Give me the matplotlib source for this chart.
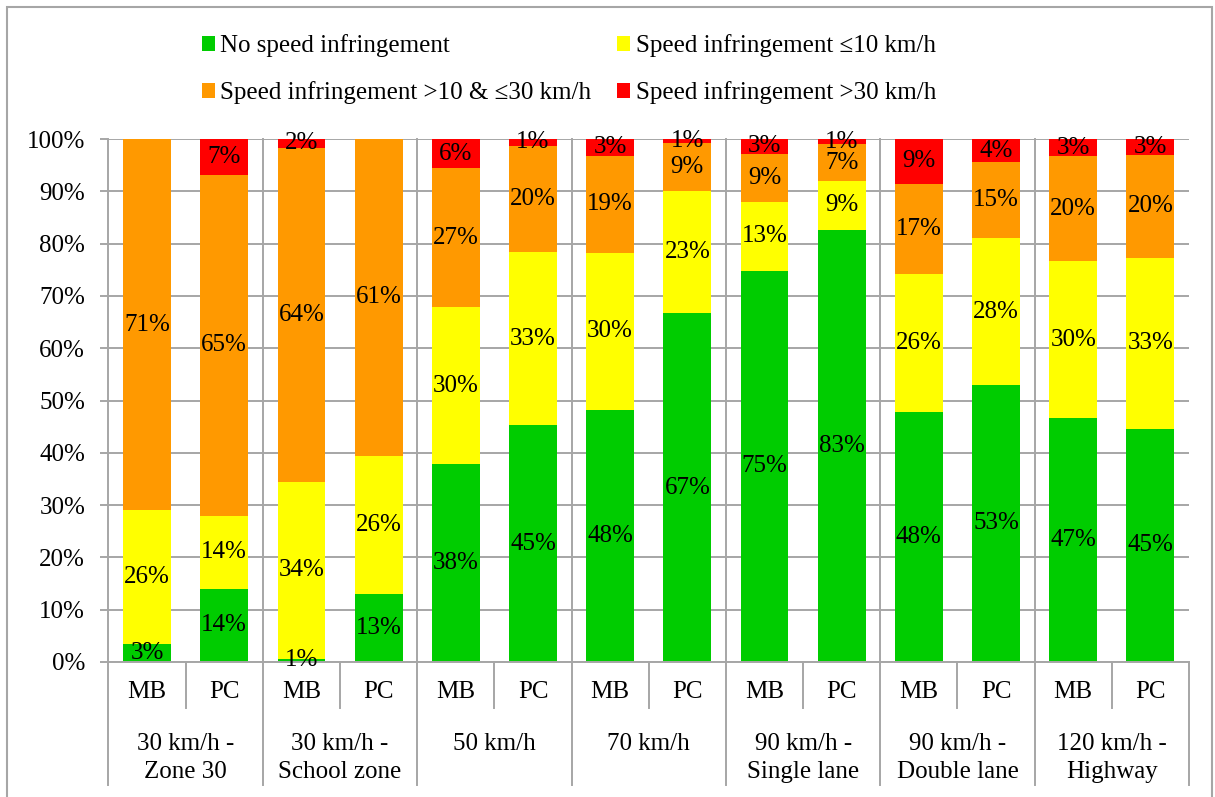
import numpy as np
import matplotlib
matplotlib.use("Agg")
import matplotlib.pyplot as plt
from matplotlib.patches import Patch, Rectangle

plt.rcParams['font.family'] = ['Liberation Serif', 'DejaVu Serif']
plt.rcParams['font.size'] = 18

# bars: MB / PC for each speed zone
vehicles = ["MB", "PC"] * 7
zones = ["30 km/h -\nZone 30", "30 km/h -\nSchool zone", "50 km/h", "70 km/h",
         "90 km/h -\nSingle lane", "90 km/h -\nDouble lane", "120 km/h -\nHighway"]

# shares in %
no_infr = [3.4, 14.0, 0.6, 13.0, 37.8, 45.3, 48.2, 66.7, 74.8, 82.6, 47.8, 53.0, 46.6, 44.6]
le10 = [25.6, 14.0, 33.9, 26.4, 30.0, 33.1, 30.0, 23.4, 13.2, 9.4, 26.4, 28.0, 30.0, 32.6]
gt10_le30 = [71.0, 65.2, 63.8, 60.6, 26.6, 20.3, 18.6, 9.2, 9.2, 7.0, 17.2, 14.6, 20.1, 19.8]
gt30 = [0.0, 6.8, 1.7, 0.0, 5.6, 1.3, 3.2, 0.7, 2.8, 1.0, 8.6, 4.4, 3.3, 3.0]

series = [
    ("No speed infringement", no_infr, "#00CC00"),
    ("Speed infringement \u226410 km/h", le10, "#FFFF00"),
    ("Speed infringement >10 & \u226430 km/h", gt10_le30, "#FF9900"),
    ("Speed infringement >30 km/h", gt30, "#FF0000"),
]

grid_c = "#A6A6A6"
grid_w = 1.4

fig = plt.figure(figsize=(12.15, 7.97), dpi=100)
ax = fig.add_axes([108.5 / 1215, 1 - 662 / 797, (1189 - 108.5) / 1215, (662 - 139) / 797])

x = np.arange(len(vehicles)) + 0.5
bottom = np.zeros(len(vehicles))
handles = []
for name, vals, col in series:
    vals = np.array(vals)
    bars = ax.bar(x, vals, width=0.62, bottom=bottom, color=col, zorder=2)
    labels = [f"{round(v)}%" if v > 0 else "" for v in vals]
    ax.bar_label(bars, labels=labels, label_type="center", fontsize=18, zorder=3)
    bottom += vals
    handles.append(Patch(facecolor=col, label=name))

ax.set_xlim(0, len(vehicles))
ax.set_ylim(0, 100)
ax.set_yticks(np.arange(0, 101, 10))
ax.set_yticklabels([f"{v}%" for v in range(0, 101, 10)])
ax.yaxis.grid(True, color=grid_c, lw=grid_w, zorder=0)
ax.set_axisbelow(True)
ax.tick_params(axis="y", length=5.8, width=grid_w, color=grid_c, pad=11)
ax.tick_params(axis="x", length=0, labelbottom=False)
for s in ["top", "right"]:
    ax.spines[s].set_visible(False)
for s in ["left", "bottom"]:
    ax.spines[s].set_color(grid_c)
    ax.spines[s].set_linewidth(grid_w)

# category axis below: vertical separators and labels
trans = ax.get_xaxis_transform()
low = -(785 - 662) / 523
mid = -(708 - 662) / 523
for g in range(len(zones) + 1):
    xg = 2 * g
    top = 1 if 0 < g < len(zones) else 0
    ax.plot([xg, xg], [low, top], transform=trans, color=grid_c, lw=grid_w,
            clip_on=False, zorder=1)
for g in range(len(zones)):
    ax.plot([2 * g + 1] * 2, [mid, 0], transform=trans, color=grid_c, lw=grid_w,
            clip_on=False, zorder=1)
    ax.text(2 * g + 1, -(733 - 662) / 523, zones[g], transform=trans, ha="center",
            va="top", linespacing=1.36)
for xi, v in zip(x, vehicles):
    ax.text(xi, -(692 - 662) / 523, v, transform=trans, ha="center", va="center")

# legend (rows: green/yellow, orange/red)
order = [0, 2, 1, 3]
fig.legend([handles[i] for i in order], [handles[i].get_label() for i in order],
           ncol=2, loc="upper left", bbox_to_anchor=(189 / 1215, 1 - 22 / 797),
           frameon=False, borderpad=0, handlelength=0.52, handleheight=0.52,
           handletextpad=0.24, columnspacing=1.0, labelspacing=0.95, fontsize=18)

# outer frame
fig.patches.append(Rectangle((7 / 1215, -0.01), 1205 / 1215, 1 - 7 / 797 + 0.01,
                             transform=fig.transFigure, fill=False,
                             edgecolor=grid_c, lw=1.5))

fig.savefig("out.png", dpi=100)
